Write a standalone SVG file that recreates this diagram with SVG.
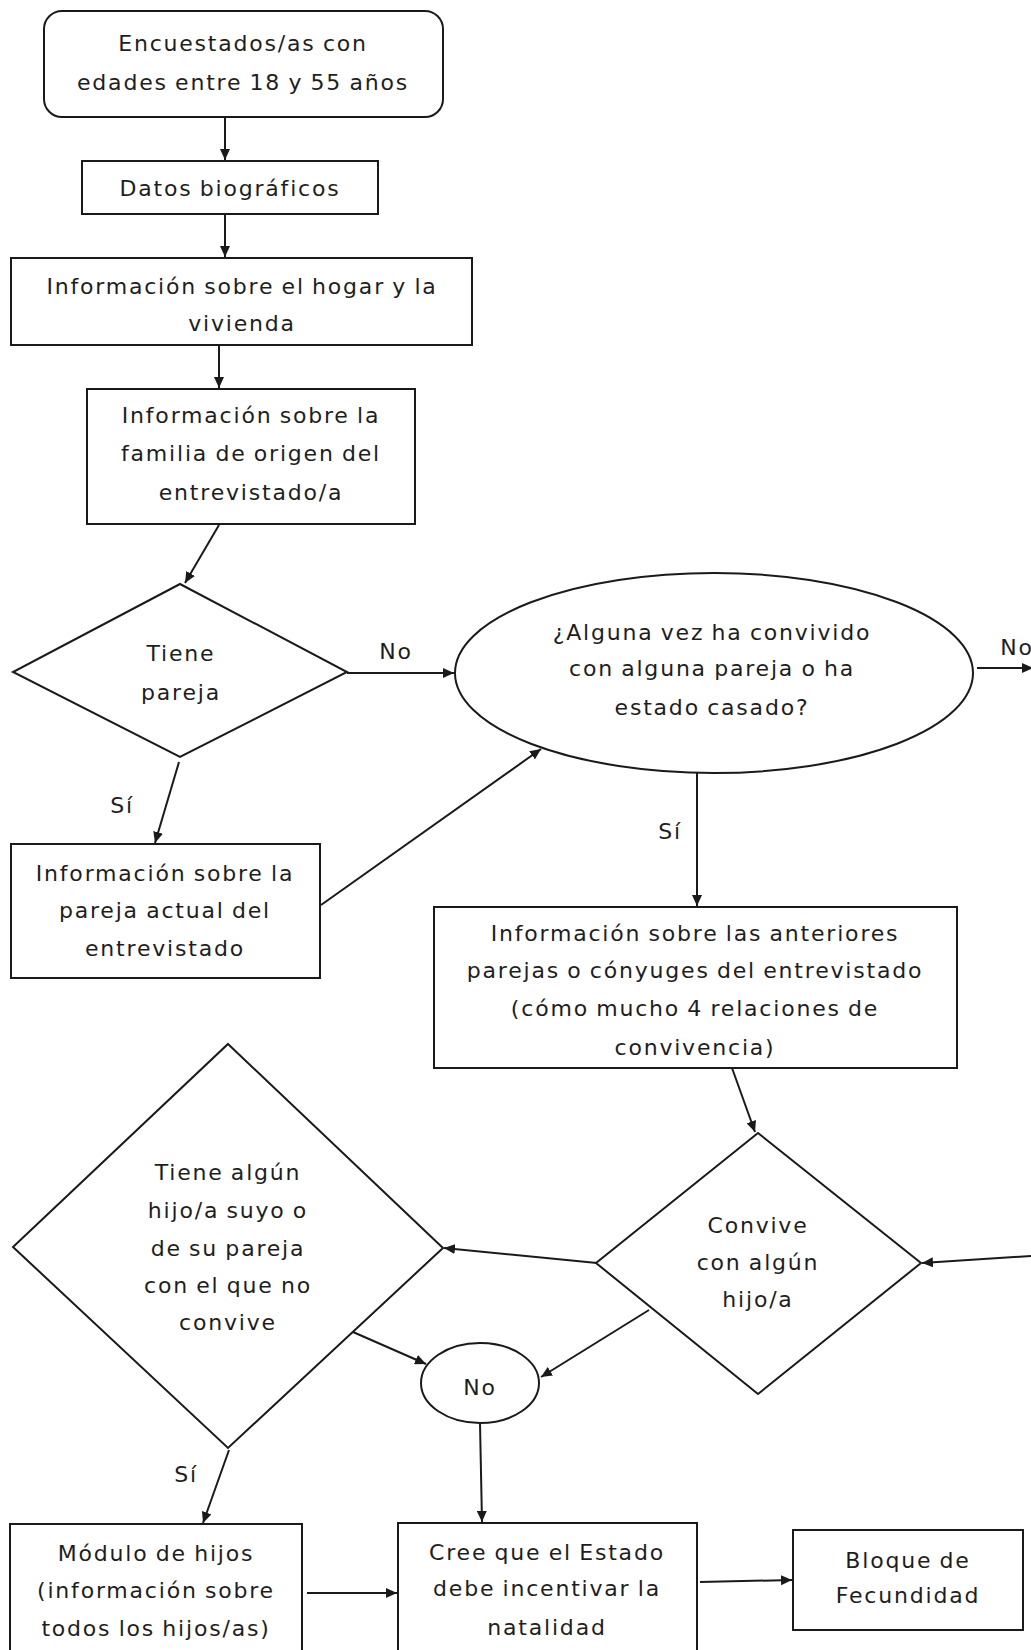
<svg xmlns="http://www.w3.org/2000/svg" width="1031" height="1650" viewBox="0 0 1031 1650">
<style>
.n{fill:#fff;stroke:#1a1a1a;stroke-width:2}
.t{font-family:"DejaVu Sans",Verdana,sans-serif;font-size:22px;letter-spacing:1.8px;word-spacing:-1.5px;fill:#1e1e1e;text-anchor:middle}
.c{fill:none;stroke:#1a1a1a;stroke-width:2}
.a{marker-end:url(#ah)}
</style>
<defs>
<marker id="ah" markerUnits="userSpaceOnUse" markerWidth="12" markerHeight="10" refX="11" refY="5" orient="auto">
<path d="M0,0 L11,5 L0,10 z" fill="#1a1a1a"/>
</marker>
</defs>
<rect width="1031" height="1650" fill="#fff"/>

<g id="connectors">
<line class="c a" x1="225" y1="117" x2="225" y2="160"/>
<line class="c a" x1="225" y1="214" x2="225" y2="257"/>
<line class="c a" x1="219" y1="345" x2="219" y2="388"/>
<line class="c a" x1="219" y1="525" x2="185" y2="583"/>
<line class="c a" x1="347" y1="673" x2="454" y2="673"/>
<line class="c a" x1="977" y1="668" x2="1033" y2="668"/>
<line class="c a" x1="179" y1="762" x2="155" y2="843"/>
<line class="c a" x1="321" y1="905" x2="541" y2="749"/>
<line class="c a" x1="697" y1="773" x2="697" y2="906"/>
<line class="c a" x1="732" y1="1068" x2="755" y2="1132"/>
<line class="c a" x1="1031" y1="1256" x2="922" y2="1263"/>
<line class="c a" x1="597" y1="1263" x2="444" y2="1248"/>
<line class="c a" x1="649" y1="1310" x2="541" y2="1377"/>
<line class="c a" x1="353" y1="1332" x2="426" y2="1364"/>
<line class="c a" x1="480" y1="1423" x2="482" y2="1522"/>
<line class="c a" x1="229" y1="1450" x2="203" y2="1523"/>
<line class="c a" x1="307" y1="1593" x2="397" y2="1593"/>
<line class="c a" x1="700" y1="1582" x2="792" y2="1580"/>
<text class="t" x="396" y="659">No</text>
<text class="t" x="1017" y="655">No</text>
<text class="t" x="122" y="813">Sí</text>
<text class="t" x="670" y="839">Sí</text>
<text class="t" x="186" y="1482">Sí</text>
</g>

<g id="start">
<rect class="n" x="44" y="11" width="399" height="106" rx="18"/>
<text class="t" x="243" y="51">Encuestados/as con</text>
<text class="t" x="243" y="90">edades entre 18 y 55 años</text>
</g>

<g id="datos">
<rect class="n" x="82" y="161" width="296" height="53"/>
<text class="t" x="230" y="196">Datos biográficos</text>
</g>

<g id="hogar">
<rect class="n" x="11" y="258" width="461" height="87"/>
<text class="t" x="242" y="294">Información sobre el hogar y la</text>
<text class="t" x="242" y="331">vivienda</text>
</g>

<g id="familia">
<rect class="n" x="87" y="389" width="328" height="135"/>
<text class="t" x="251" y="423">Información sobre la</text>
<text class="t" x="251" y="461">familia de origen del</text>
<text class="t" x="251" y="500">entrevistado/a</text>
</g>

<g id="tiene-pareja">
<polygon class="n" points="180,584 347,672 180,757 13,672"/>
<text class="t" x="181" y="661">Tiene</text>
<text class="t" x="181" y="700">pareja</text>
</g>

<g id="convivido">
<ellipse class="n" cx="714" cy="673" rx="259" ry="100"/>
<text class="t" x="712" y="640">¿Alguna vez ha convivido</text>
<text class="t" x="712" y="676">con alguna pareja o ha</text>
<text class="t" x="712" y="715">estado casado?</text>
</g>

<g id="pareja-actual">
<rect class="n" x="11" y="844" width="309" height="134"/>
<text class="t" x="165" y="881">Información sobre la</text>
<text class="t" x="165" y="918">pareja actual del</text>
<text class="t" x="165" y="956">entrevistado</text>
</g>

<g id="anteriores">
<rect class="n" x="434" y="907" width="523" height="161"/>
<text class="t" x="695" y="941">Información sobre las anteriores</text>
<text class="t" x="695" y="978">parejas o cónyuges del entrevistado</text>
<text class="t" x="695" y="1016">(cómo mucho 4 relaciones de</text>
<text class="t" x="695" y="1055">convivencia)</text>
</g>

<g id="convive-hijo">
<polygon class="n" points="758,1133 921,1263 758,1394 596,1263"/>
<text class="t" x="758" y="1233">Convive</text>
<text class="t" x="758" y="1270">con algún</text>
<text class="t" x="758" y="1307">hijo/a</text>
</g>

<g id="tiene-hijo">
<polygon class="n" points="228,1044 443,1248 228,1448 13,1247"/>
<text class="t" x="228" y="1180">Tiene algún</text>
<text class="t" x="228" y="1218">hijo/a suyo o</text>
<text class="t" x="228" y="1256">de su pareja</text>
<text class="t" x="228" y="1293">con el que no</text>
<text class="t" x="228" y="1330">convive</text>
</g>

<g id="no-circle">
<ellipse class="n" cx="480" cy="1383" rx="59" ry="40"/>
<text class="t" x="480" y="1395">No</text>
</g>

<g id="modulo-hijos">
<rect class="n" x="10" y="1524" width="292" height="140"/>
<text class="t" x="156" y="1561">Módulo de hijos</text>
<text class="t" x="156" y="1598">(información sobre</text>
<text class="t" x="156" y="1636">todos los hijos/as)</text>
</g>

<g id="estado">
<rect class="n" x="398" y="1523" width="299" height="140"/>
<text class="t" x="547" y="1560">Cree que el Estado</text>
<text class="t" x="547" y="1596">debe incentivar la</text>
<text class="t" x="547" y="1635">natalidad</text>
</g>

<g id="fecundidad">
<rect class="n" x="793" y="1530" width="230" height="100"/>
<text class="t" x="908" y="1568">Bloque de</text>
<text class="t" x="908" y="1603">Fecundidad</text>
</g>
</svg>
